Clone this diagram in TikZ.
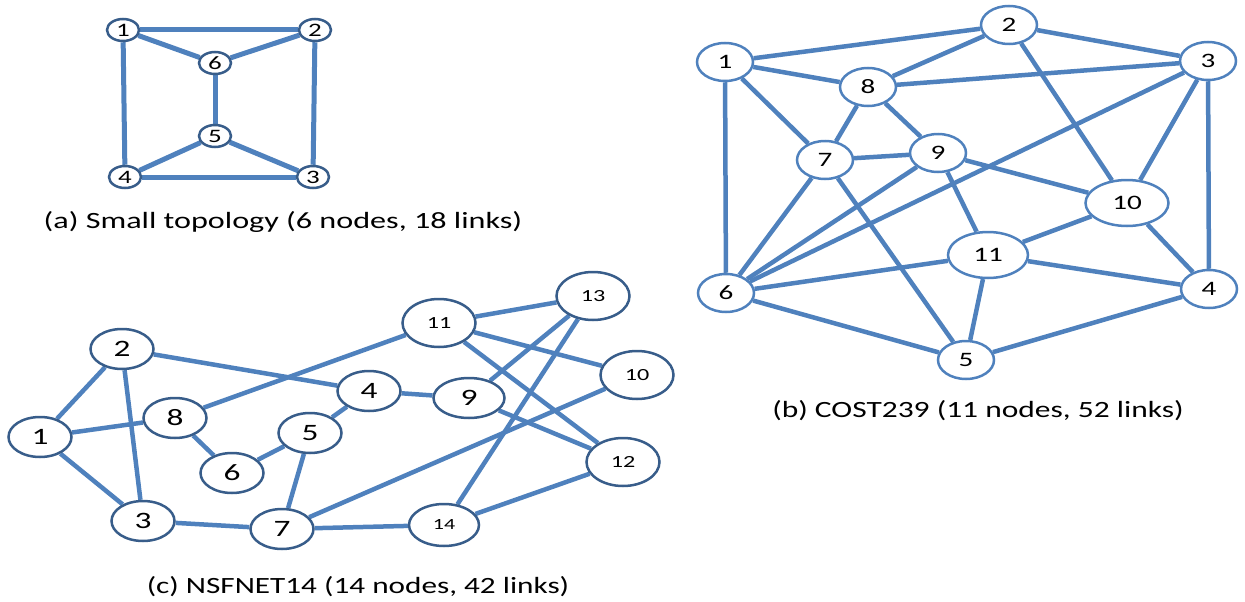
\documentclass[tikz,border=0pt]{standalone}
\usepackage{fontspec}
\usepackage{graphicx}
\setmainfont{Carlito}
\usetikzlibrary{shapes.geometric}
\definecolor{linkblue}{HTML}{4F81BD}
\definecolor{rimblue}{HTML}{385D8A}
\pgfdeclarelayer{back}
\pgfsetlayers{back,main}
\newcommand{\wtext}[2][1.42]{\scalebox{#1}[1]{#2}}
\tikzset{
  hub/.style={ellipse, draw=rimblue, line width=2.5pt, fill=white, inner sep=0pt},
  link/.style={draw=linkblue, line width=4.5pt},
  caption/.style={font=\fontsize{23.3}{26}\selectfont}
}
\begin{document}
\begin{tikzpicture}[x=1pt,y=-1pt]
\useasboundingbox (0,0) rectangle (1245,602);

% (a) small topology
\foreach \n/\x/\y in {1/123/30,2/315/30,3/313/177,4/125/177,5/215/136,6/215/63}{
\node[hub, minimum width=32, minimum height=22, font=\fontsize{19}{20}\selectfont] (a\n) at (\x,\y) {\wtext{\n}};
}
\begin{pgfonlayer}{back}
\foreach \u/\v in {a1/a2,a1/a6,a2/a6,a6/a5,a5/a4,a5/a3,a4/a3,a1/a4,a2/a3}{
\draw[link, line width=5pt] (\u) -- (\v);
}
\end{pgfonlayer}
\node[caption] (capa) at (283,222) {\wtext[1.38]{(a) Small topology (6 nodes, 18 links)}};

% (b) COST239
\begin{scope}[every node/.style={hub, draw=linkblue, minimum width=56, minimum height=38, font=\fontsize{20.5}{22}\selectfont}]
\foreach \n/\x/\y in {1/725/62,2/1009/25,3/1208/61,4/1209/289,5/966/360,6/726/293,7/825/160,8/868/87,9/938/153}{
\node (b\n) at (\x,\y) {\wtext{\n}};
}
\node[minimum width=83, minimum height=46] (b10) at (1127,203) {\wtext{10}};
\node[minimum width=80, minimum height=46] (b11) at (988,255) {\wtext{11}};
\end{scope}
\begin{pgfonlayer}{back}
\foreach \u/\v in {b1/b2,b1/b8,b1/b7,b1/b6,b2/b8,b2/b3,b2/b10,b3/b8,b3/b6,b3/b10,b3/b4,
  b8/b7,b8/b9,b7/b9,b7/b6,b7/b5,b9/b6,b9/b10,b9/b11,b10/b11,b10/b4,b11/b6,b11/b4,b11/b5,
  b6/b5,b5/b4}{
\draw[link] (\u) -- (\v);
}
\end{pgfonlayer}
\node[caption] (capb) at (978,411) {\wtext[1.35]{(b) COST239 (11 nodes, 52 links)}};

% (c) NSFNET14
\begin{scope}[every node/.style={hub, minimum width=63, minimum height=40, font=\fontsize{23.5}{24}\selectfont}]
\foreach \n/\x/\y in {1/40/437,2/122/349,3/143/521,4/369/391,5/310/433,6/232/473,7/282/529,8/175/418}{
\node (c\n) at (\x,\y) {\wtext{\n}};
}
\node[minimum width=71] (c9) at (469,398) {\wtext{9}};
\end{scope}
\begin{scope}[every node/.style={hub, minimum width=73, minimum height=48, font=\fontsize{17}{18}\selectfont}]
\node (c10) at (637,375) {\wtext{10}};
\node (c11) at (439,323) {\wtext{11}};
\node (c12) at (623,462) {\wtext{12}};
\node (c13) at (593,296) {\wtext{13}};
\node[minimum width=70, minimum height=42, font=\fontsize{15.5}{16}\selectfont] (c14) at (444,525) {\wtext{14}};
\end{scope}
\begin{pgfonlayer}{back}
\foreach \u/\v in {c1/c2,c1/c8,c1/c3,c2/c3,c2/c4,c8/c11,c8/c6,c6/c5,c5/c4,c5/c7,c3/c7,
  c4/c9,c7/c10,c7/c14,c11/c13,c11/c10,c11/c12,c9/c13,c9/c12,c13/c14,c14/c12}{
\draw[link] (\u) -- (\v);
}
\end{pgfonlayer}
\node[caption] (capc) at (358,587) {\wtext[1.34]{(c) NSFNET14 (14 nodes, 42 links)}};
\end{tikzpicture}
\end{document}
